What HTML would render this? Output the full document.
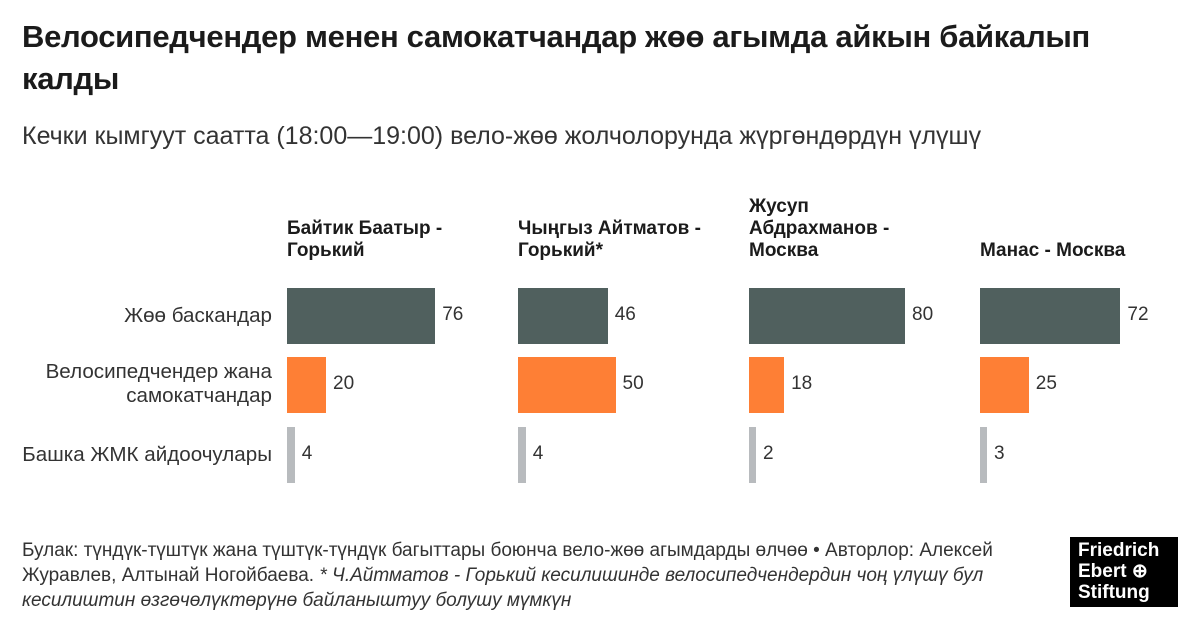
<!DOCTYPE html><html><head><meta charset="utf-8"><style>
body{margin:0;width:1200px;height:630px;background:#fff;font-family:"Liberation Sans",sans-serif;color:#222;position:relative;overflow:hidden}
.a{position:absolute}
h1{position:absolute;left:22px;top:16px;margin:0;font-size:31px;line-height:42px;font-weight:bold;color:#1b1b1b;letter-spacing:-0.3px;white-space:nowrap}
.sub{left:22px;top:122px;font-size:25px;color:#333;white-space:nowrap}
.ph{font-size:19px;font-weight:bold;line-height:22px;color:#1b1b1b}
.lab{font-size:20.6px;color:#333;text-align:right;right:928px;line-height:24px;white-space:nowrap}
.v{font-size:19px;color:#333}
.foot{left:22px;top:538px;font-size:19px;line-height:25px;color:#333;white-space:nowrap}
</style></head><body>
<h1>Велосипедчендер менен самокатчандар жөө агымда айкын байкалып<br>калды</h1>
<div class="a sub">Кечки кымгуут саатта (18:00—19:00) вело-жөө жолчолорунда жүргөндөрдүн үлүшү</div>
<div class="a lab" style="top:304px">Жөө баскандар</div>
<div class="a lab" style="top:360px">Велосипедчендер жана<br>самокатчандар</div>
<div class="a lab" style="top:443px">Башка ЖМК айдоочулары</div>
<div class="a ph" style="left:287px;top:218px">Байтик Баатыр -<br>Горький</div>
<div class="a ph" style="left:518px;top:218px">Чыңгыз Айтматов -<br>Горький*</div>
<div class="a ph" style="left:749px;top:196px">Жусуп<br>Абдрахманов -<br>Москва</div>
<div class="a ph" style="left:980px;top:240px">Манас - Москва</div>
<div id="bars"></div>
<div class="a foot">Булак: түндүк-түштүк жана түштүк-түндүк багыттары боюнча вело-жөө агымдарды өлчөө • Авторлор: Алексей<br>Журавлев, Алтынай Ногойбаева. <i>* Ч.Айтматов - Горький кесилишинде велосипедчендердин чоң үлүшү бул<br>кесилиштин өзгөчөлүктөрүнө байланыштуу болушу мүмкүн</i></div>
<div class="a" style="left:1070px;top:537px;width:108px;height:70px;background:#000;color:#fff;font-weight:bold;font-size:19px;line-height:21px;padding:3px 0 0 8px;box-sizing:border-box">Friedrich<br>Ebert ⊕<br>Stiftung</div>
<script>
var px=[287,518,749,980],d=[[76,20,4],[46,50,4],[80,18,2],[72,25,3]],c=['#50605e','#fe7f35','#b8bbbe'],ys=[288,357,427],h='';
d.forEach(function(r,i){r.forEach(function(v,j){var w=Math.max(v*1.95,7);h+='<div class="a" style="left:'+px[i]+'px;top:'+ys[j]+'px;width:'+w+'px;height:56px;background:'+c[j]+'"></div><div class="a v" style="left:'+(px[i]+w+7)+'px;top:'+(ys[j]+16)+'px">'+v+'</div>';});});
document.getElementById('bars').innerHTML=h;
</script>
</body></html>
